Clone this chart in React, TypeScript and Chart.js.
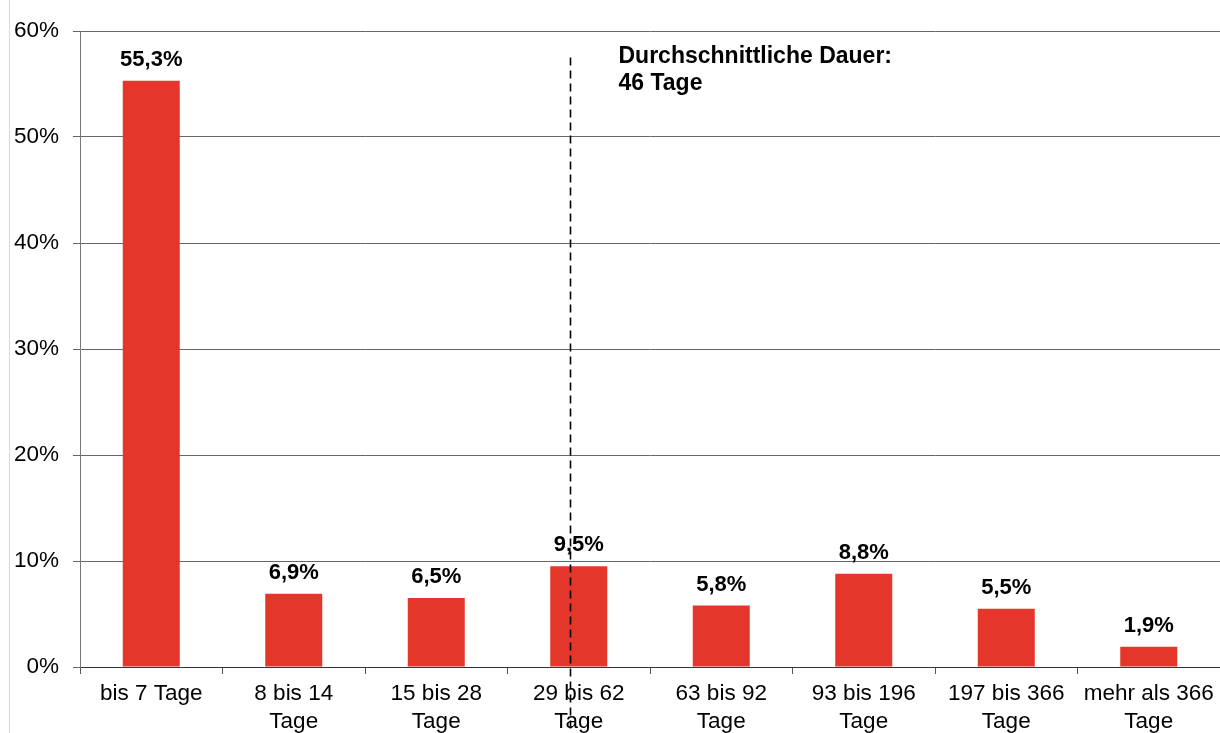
import React, { useEffect, useRef } from "react";
import { Chart, registerables } from "chart.js";

Chart.register(...registerables);

// ---- data ----
const categories: string[][] = [
  ["bis 7 Tage"],
  ["8 bis 14", "Tage"],
  ["15 bis 28", "Tage"],
  ["29 bis 62", "Tage"],
  ["63 bis 92", "Tage"],
  ["93 bis 196", "Tage"],
  ["197 bis 366", "Tage"],
  ["mehr als 366", "Tage"],
];
const shares: number[] = [55.3, 6.9, 6.5, 9.5, 5.8, 8.8, 5.5, 1.9];
const yMin = 0;
const yMax = 60;
const yStep = 10;
const averageText: string[] = ["Durchschnittliche Dauer:", "46 Tage"];
const averagePosition = 2.94; // position on the category axis (index units)
const averageLineTop = 57.5; // top of the dashed line, in %

const FONT = "'Liberation Sans', Arial, Helvetica, sans-serif";
const BAR_COLOR = "#E4362A";

const fmt = (v: number) => v.toFixed(1).replace(".", ",") + "%";

const overlayPlugin = {
  id: "overlay",
  beforeDraw(chart: any) {
    const ctx = chart.ctx;
    ctx.save();
    ctx.strokeStyle = "#d9d9d9";
    ctx.lineWidth = 1;
    ctx.beginPath();
    ctx.moveTo(9.5, 0);
    ctx.lineTo(9.5, chart.height);
    ctx.stroke();
    ctx.restore();
  },
  afterDatasetsDraw(chart: any) {
    const ctx = chart.ctx;
    const meta = chart.getDatasetMeta(0);
    ctx.save();
    ctx.fillStyle = "#000";
    ctx.font = `bold 22px ${FONT}`;
    ctx.textAlign = "center";
    ctx.textBaseline = "alphabetic";
    meta.data.forEach((bar: any, i: number) => {
      ctx.fillText(fmt(shares[i]), bar.x, bar.y - 15);
    });

    const xs = chart.scales.x;
    const ys = chart.scales.y;
    const lx = Math.round(xs.getPixelForValue(averagePosition)) + 0.5;
    const top = ys.getPixelForValue(averageLineTop);
    ctx.strokeStyle = "#000";
    ctx.lineWidth = 1.6;
    ctx.setLineDash([8, 5]);
    ctx.beginPath();
    ctx.moveTo(lx, top);
    ctx.lineTo(lx, chart.height);
    ctx.stroke();
    ctx.setLineDash([]);

    ctx.font = `bold 23px ${FONT}`;
    ctx.textAlign = "left";
    averageText.forEach((t, i) => {
      ctx.fillText(t, lx + 48, top + 5 + i * 27);
    });
    ctx.restore();
  },
};

export default function App() {
  const ref = useRef<HTMLCanvasElement | null>(null);
  useEffect(() => {
    document.body.style.margin = "0";
    if (!ref.current) return;
    const chart = new Chart(ref.current, {
      type: "bar",
      data: {
        labels: categories,
        datasets: [
          {
            data: shares,
            backgroundColor: BAR_COLOR,
            borderWidth: 0,
            barPercentage: 0.4,
            categoryPercentage: 1,
          },
        ],
      },
      options: {
        animation: false,
        responsive: false,
        maintainAspectRatio: false,
        layout: { padding: { top: 31, right: 0, left: 0, bottom: 0 } },
        plugins: {
          legend: { display: false },
          tooltip: { enabled: false },
        },
        scales: {
          x: {
            offset: true,
            grid: {
              offset: true,
              drawOnChartArea: false,
              drawTicks: true,
              tickLength: 7,
              color: "#555",
            },
            border: { display: true, color: "#333", width: 1 },
            ticks: {
              color: "#000",
              font: { family: FONT, size: 22.5, lineHeight: 1.25 },
              padding: 6,
              maxRotation: 0,
              autoSkip: false,
            },
            afterFit: (s: any) => {
              s.height = 66;
            },
          },
          y: {
            min: yMin,
            max: yMax,
            grid: {
              color: "#666",
              drawTicks: true,
              tickLength: 7,
            },
            border: { display: true, color: "#777", width: 1 },
            ticks: {
              stepSize: yStep,
              color: "#000",
              font: { family: FONT, size: 22.5 },
              padding: 14,
              callback: (v: any) => `${v}%`,
            },
            afterFit: (s: any) => {
              s.width = 80;
            },
          },
        },
      },
      plugins: [overlayPlugin],
    });
    return () => chart.destroy();
  }, []);
  return (
    <div style={{ width: 1220, height: 733 }}>
      <canvas ref={ref} width={1220} height={733} style={{ display: "block" }} />
    </div>
  );
}
